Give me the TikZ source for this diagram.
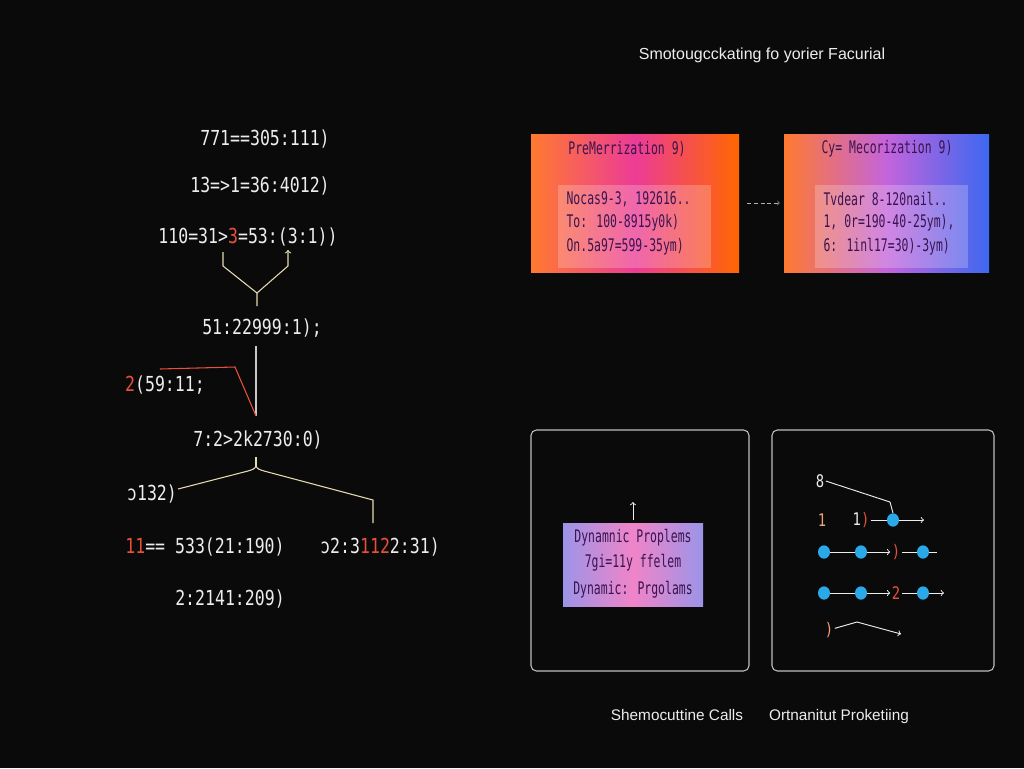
\documentclass[tikz,border=0pt]{standalone}
\usepackage{fontspec}
\setmainfont{Liberation Sans}
\newfontfamily\codefont[FakeStretch=0.8]{DejaVu Sans Mono}
\newfontfamily\boxfont[FakeStretch=0.66]{DejaVu Sans Mono}
\usetikzlibrary{positioning,shapes.geometric}

\definecolor{bgblack}{HTML}{0A0A0A}
\definecolor{codewhite}{HTML}{EDEDED}
\definecolor{codered}{HTML}{E8503A}
\definecolor{linecream}{HTML}{E6DAB0}
\definecolor{peach}{HTML}{F0A078}
\definecolor{boxorange}{HTML}{FF7A30}
\definecolor{boxpink}{HTML}{EC3C96}
\definecolor{boxpurple}{HTML}{C464DC}
\definecolor{boxblue}{HTML}{3C68F0}
\definecolor{boxink}{HTML}{3A1450}
\definecolor{dotblue}{HTML}{2AA8E8}
\definecolor{lavender}{HTML}{9C94E8}
\definecolor{softpink}{HTML}{F084C8}
\newcommand{\pxu}{0.75pt}

\begin{document}
\begin{tikzpicture}[
x=\pxu, y=-\pxu,
code/.style={text=codewhite, font=\codefont\fontsize{15.5}{18}\selectfont, inner sep=1pt},
memo/.style={text=boxink, font=\boxfont\fontsize{13}{15}\selectfont, inner sep=1pt},
caption/.style={text=codewhite, font=\fontsize{11.5}{14}\selectfont, inner sep=1pt, anchor=base},
fork/.style={draw=linecream, line width=0.8pt},
trunk/.style={draw=codewhite!85!black, line width=0.8pt},
redline/.style={draw=codered, line width=0.8pt},
panel/.style={draw=white!75!black, line width=0.8pt, rounded corners=4pt},
cell/.style={ellipse, fill=dotblue, inner sep=0pt, minimum width=9pt, minimum height=10pt},
small/.style={code, font=\codefont\fontsize{13}{15}\selectfont},
link/.style={draw=codewhite, line width=0.7pt}
]
\fill[bgblack] (0,0) rectangle (1024,768);

% left: call tree
\node[code](row_a) at (265,139) {771==305:111)};
\node[code](row_b) at (260,186) {13=>1=36:4012)};
\node[code](row_c) at (248,237) {110=31>{\color{codered}3}=53:(3:1))};

\coordinate (fork_l_top) at (223,252);
\coordinate (fork_l_mid) at (223,266);
\coordinate (fork_r_top) at (288,250);
\coordinate (fork_r_mid) at (288,266);
\coordinate (fork_join) at (257,293);
\coordinate (fork_bottom) at (257,306);
\draw[fork] (fork_l_top) -- (fork_l_mid) -- (fork_join) -- (fork_bottom);
\draw[fork,->] (fork_join) -- (fork_r_mid) -- (fork_r_top);

\node[code](row_d) at (262,328) {51:22999:1);};
\coordinate (trunk_top) at (256,346);
\coordinate (trunk_end) at (256,416);
\draw[trunk] (trunk_top) -- (trunk_end);

\coordinate (red_start) at (160,369);
\coordinate (red_knee) at (235,367);
\draw[redline] (red_start) -- (red_knee) -- (trunk_end);
\node[code](row_e) at (165,385) {{\color{codered}2}(59:11;};

\node[code](row_f) at (258,440) {7:2>2k2730:0)};
\coordinate (brace_top) at (256,457);
\coordinate (brace_split) at (256,466);
\coordinate (brace_left) at (178,489);
\coordinate (brace_right) at (373,500);
\coordinate (brace_drop) at (373,523);
\draw[fork] (brace_top) -- (brace_split);
\draw[fork] (brace_split) to[out=250,in=20] ++(-8,5) -- (brace_left);
\draw[fork] (brace_split) to[out=290,in=160] ++(8,5) -- (brace_right) -- (brace_drop);

\node[code](row_g) at (152,494) {ɔ132)};
\node[code](row_h) at (205,547) {{\color{codered}11}== 533(21:190)};
\node[code](row_i) at (380,547) {ɔ2:3{\color{codered}112}2:31)};
\node[code](row_j) at (230,599) {2:2141:209)};

% right top: memo boxes
\node[caption, font=\fontsize{12}{14}\selectfont](main_title) at (762,59) {Smotougcckating fo yorier Facurial};

\node[minimum width=208*\pxu, minimum height=138*\pxu, inner sep=0pt,
  left color=boxorange, right color=orange!80!red, middle color=boxpink](pre_box) at (635,203) {};
\node[minimum width=205*\pxu, minimum height=138*\pxu, inner sep=0pt,
  left color=boxorange, right color=boxblue, middle color=boxpurple](cy_box) at (886.5,203) {};
\fill[white, fill opacity=0.22] (558,185) rectangle (711,268);
\fill[white, fill opacity=0.22] (815,185) rectangle (968,268);

\node[memo](pre_title) at (627,149) {PreMerrization 9)};
\node[memo,anchor=west](pre_a) at (565,199) {Nocas9-3, 192616..};
\node[memo,anchor=west](pre_b) at (565,223) {To: 100-8915y0k)};
\node[memo,anchor=west](pre_c) at (565,247) {On.5a97=599-35ym)};

\node[memo](cy_title) at (887,149) {Cy= Mecorization 9)};
\node[memo,anchor=west](cy_a) at (822,199) {Tvdear 8-120nail..};
\node[memo,anchor=west](cy_b) at (822,223) {1, 0r=190-40-25ym),};
\node[memo,anchor=west](cy_c) at (822,247) {6: 1inl17=30)-3ym)};

\draw[->, densely dashed, draw=white!70!black, shorten <=6pt, shorten >=3pt] (pre_box.east) -- (cy_box.west);

% right bottom: panels
\draw[panel] (531,430) rectangle (749,671);
\draw[panel] (772,430) rectangle (994,671);

\node[minimum width=140*\pxu, minimum height=83*\pxu, inner sep=0pt,
  left color=lavender, right color=lavender, middle color=softpink](dyn_box) at (633,564.5) {};
\node[memo](dyn_a) at (633,538) {Dynamnic Proplems};
\node[memo](dyn_b) at (633,563) {7gi=11y ffelem};
\node[memo](dyn_c) at (633,590) {Dynamic: Prgolams};
\coordinate (dyn_tip) at (633,502);
\draw[link,->] ([yshift=2pt]dyn_box.north) -- (dyn_tip);

\node[small](top_mark) at (820,481) {8};
\coordinate (bend_a) at (890,502);
\node[cell](dot_a) at (893,520) {};
\draw[link] (top_mark.east) -- (bend_a) -- (dot_a.north);
\node[small, text=peach](lbl_one) at (822,520) {1};
\node[small](lbl_onep) at (861,520) {1{\color{codered})}};
\coordinate (end_a) at (924,520);
\draw[link] (lbl_onep) -- (dot_a);
\draw[link,->] (dot_a) -- (end_a);

\node[cell](dot_b1) at (824,552) {};
\node[cell](dot_b2) at (861,552) {};
\node[small, text=codered](lbl_b) at (896,552) {)};
\node[cell](dot_b3) at (923,552) {};
\coordinate (end_b) at (937,552);
\draw[link] (dot_b1) -- (dot_b2);
\draw[link,->] (dot_b2) -- (lbl_b);
\draw[link] (lbl_b) -- (dot_b3) -- (end_b);

\node[cell](dot_c1) at (824,593) {};
\node[cell](dot_c2) at (861,593) {};
\node[small, text=codered](lbl_c) at (896,593) {2};
\node[cell](dot_c3) at (923,593) {};
\coordinate (end_c) at (944,593);
\draw[link] (dot_c1) -- (dot_c2);
\draw[link,->] (dot_c2) -- (lbl_c);
\draw[link] (lbl_c) -- (dot_c3);
\draw[link,->] (dot_c3) -- (end_c);

\node[small, text=peach](lbl_d) at (829,630) {)};
\coordinate (bend_d) at (857,622);
\coordinate (end_d) at (901,634);
\draw[link,->] (lbl_d) -- (bend_d) -- (end_d);

\node[caption](calls_label) at (677,720) {Shemocuttine Calls};
\node[caption](opt_label) at (839,720) {Ortnanitut Proketiing};
\end{tikzpicture}
\end{document}
